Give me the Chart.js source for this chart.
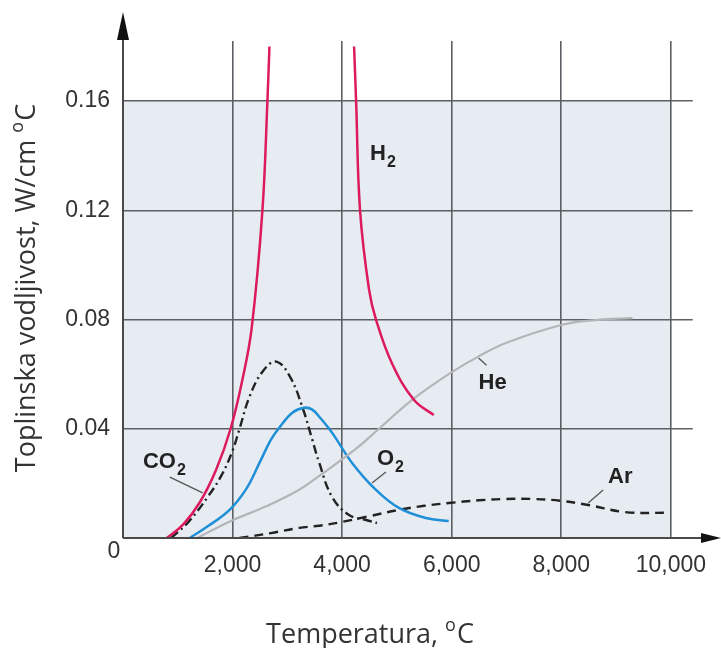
<!DOCTYPE html>
<html>
<head>
<meta charset="utf-8">
<script src="https://cdn.jsdelivr.net/npm/chart.js@4.4.1/dist/chart.umd.min.js"></script>
<style>
html,body{margin:0;padding:0;background:#fff;}
#wrap{width:721px;height:648px;position:relative;}
</style>
</head>
<body>
<div id="wrap"><canvas id="c"></canvas></div>
<script>
// ---- data (temperature in °C, conductivity in W/cm °C) ----
const h2LowT  = [800, 1100, 1400, 1700, 1964, 2180, 2350, 2545, 2636, 2673];
const h2LowK  = [0, 0.005, 0.013, 0.025, 0.040, 0.058, 0.077, 0.120, 0.160, 0.180];
const h2HighT = [4218, 4255, 4327, 4491, 4618, 4909, 5309, 5673];
const h2HighK = [0.180, 0.160, 0.120, 0.091, 0.080, 0.064, 0.0506, 0.045];
const co2T = [880, 1200, 1545, 1800, 2000, 2127, 2309, 2550, 2800, 3050, 3273, 3455, 3582, 3818, 4127, 4436, 4636];
const co2K = [0, 0.006, 0.015, 0.023, 0.032, 0.040, 0.0517, 0.061, 0.0646, 0.059, 0.048, 0.036, 0.0275, 0.015, 0.0084, 0.0066, 0.0055];
const o2T = [1218, 1527, 1945, 2250, 2491, 2700, 2855, 3091, 3309, 3455, 3600, 3818, 4182, 4618, 5036, 5527, 5945];
const o2K = [0, 0.004, 0.0103, 0.018, 0.0275, 0.036, 0.0405, 0.0459, 0.0477, 0.047, 0.044, 0.0385, 0.0275, 0.0176, 0.011, 0.0073, 0.0062];
const heT = [1350, 2000, 2600, 3200, 3600, 4273, 4673, 5273, 5945, 6491, 7000, 8000, 8618, 9300];
const heK = [0, 0.0065, 0.0115, 0.0175, 0.023, 0.033, 0.040, 0.0505, 0.060, 0.0665, 0.0715, 0.078, 0.0798, 0.0805];
const arT = [2127, 2700, 3218, 3582, 4000, 4500, 5036, 5500, 5945, 6500, 6982, 7454, 8000, 8491, 9164, 9982];
const arK = [0, 0.0018, 0.0037, 0.0045, 0.0059, 0.008, 0.0103, 0.0118, 0.0128, 0.0138, 0.0143, 0.0143, 0.0136, 0.0121, 0.0095, 0.0092];

const xTicks = [0, 2000, 4000, 6000, 8000, 10000];
const yTicks = [0, 0.04, 0.08, 0.12, 0.16];
const xMax = 10400, yMax = 0.182;

// curve labels: [main text, subscript, T, k]
const curveLabels = [
  ['H', '2', 4509, 0.1384],
  ['He', '', 6491, 0.0546],
  ['CO', '2', 364, 0.0256],
  ['O', '2', 4636, 0.0267],
  ['Ar', '', 8855, 0.0201]
];
// leader lines: [T1, k1, T2, k2]
const leaders = [
  [855, 0.0223, 1455, 0.0165],
  [6491, 0.0659, 6636, 0.0633],
  [4800, 0.0242, 4545, 0.0201],
  [8764, 0.0176, 8491, 0.0128]
];

const pts = (T, K) => T.map((t, i) => ({x: t, y: K[i]}));

const ds = (T, K, color, width, dash) => ({
  data: pts(T, K), borderColor: color, borderWidth: width, borderDash: dash || [],
  pointRadius: 0, fill: false, tension: 0.4, showLine: true
});

const TICK_FONT = {family: '"Liberation Sans", Arial, sans-serif', size: 23};

const overlay = {
  id: 'overlay',
  beforeDraw(chart) {
    const {ctx, scales: {x, y}} = chart;
    ctx.save();
    ctx.fillStyle = '#e7ecf3';
    const l = x.getPixelForValue(0), r = x.getPixelForValue(10000);
    const t = y.getPixelForValue(0.16), b = y.getPixelForValue(0);
    ctx.fillRect(l, t, r - l, b - t);
    ctx.restore();
  },
  afterDraw(chart) {
    const {ctx, scales: {x, y}} = chart;
    const ox = x.getPixelForValue(0), oy = y.getPixelForValue(0);
    ctx.save();
    // axes
    ctx.strokeStyle = '#4a4a4a';
    ctx.fillStyle = '#111';
    ctx.lineWidth = 2;
    ctx.beginPath();
    ctx.moveTo(ox, oy); ctx.lineTo(704, oy);
    ctx.moveTo(ox, oy); ctx.lineTo(ox, 36);
    ctx.stroke();
    ctx.beginPath();
    ctx.moveTo(721, oy); ctx.lineTo(701, oy - 5); ctx.lineTo(701, oy + 5); ctx.closePath(); ctx.fill();
    ctx.beginPath();
    ctx.moveTo(ox, 12); ctx.lineTo(ox - 6, 40); ctx.lineTo(ox + 6, 40); ctx.closePath(); ctx.fill();

    // origin label
    ctx.fillStyle = '#333';
    ctx.font = '23px "Liberation Sans", Arial, sans-serif';
    ctx.textAlign = 'center'; ctx.textBaseline = 'alphabetic';
    ctx.fillText('0', ox - 9, oy + 20);

    // leader lines
    ctx.strokeStyle = '#555';
    ctx.lineWidth = 1.3;
    leaders.forEach(([t1, k1, t2, k2]) => {
      ctx.beginPath();
      ctx.moveTo(x.getPixelForValue(t1), y.getPixelForValue(k1));
      ctx.lineTo(x.getPixelForValue(t2), y.getPixelForValue(k2));
      ctx.stroke();
    });

    // curve labels
    ctx.fillStyle = '#222';
    ctx.textAlign = 'left';
    curveLabels.forEach(([main, sub, t, k]) => {
      const px = x.getPixelForValue(t), py = y.getPixelForValue(k);
      ctx.font = 'bold 22px "Liberation Sans", Arial, sans-serif';
      ctx.fillText(main, px, py);
      if (sub) {
        const w = ctx.measureText(main).width;
        ctx.font = 'bold 16px "Liberation Sans", Arial, sans-serif';
        ctx.fillText(sub, px + w + 1, py + 7);
      }
    });

    // axis titles with superscript o
    const titleFont = '27px "Open Sans", sans-serif';
    const supFont = '18px "Open Sans", sans-serif';
    function drawTitle(cx, cy, rot, before, after) {
      ctx.save();
      ctx.translate(cx, cy);
      ctx.rotate(rot);
      ctx.fillStyle = '#333';
      ctx.textAlign = 'left';
      ctx.textBaseline = 'alphabetic';
      ctx.font = titleFont; const w1 = ctx.measureText(before).width;
      ctx.font = supFont; const w2 = ctx.measureText('o').width;
      ctx.font = titleFont; const w3 = ctx.measureText(after).width;
      const total = w1 + w2 + 1 + w3;
      let sx = -total / 2;
      ctx.font = titleFont; ctx.fillText(before, sx, 8);
      ctx.font = supFont; ctx.fillText('o', sx + w1, -4);
      ctx.font = titleFont; ctx.fillText(after, sx + w1 + w2 + 1, 8);
      ctx.restore();
    }
    drawTitle(27, 288, -Math.PI / 2, 'Toplinska vodljivost, W/cm ', 'C');
    drawTitle(370, 635, 0, 'Temperatura, ', 'C');
    ctx.restore();
  }
};

new Chart(document.getElementById('c'), {
  type: 'line',
  data: {
    datasets: [
      ds(h2LowT, h2LowK, '#dc1a5c', 2.5),
      ds(h2HighT, h2HighK, '#dc1a5c', 2.5),
      ds(heT, heK, '#b3b5b8', 2.2),
      ds(o2T, o2K, '#1f8fd8', 2.5),
      ds(co2T, co2K, '#222', 2.4, [9, 4, 2, 4]),
      ds(arT, arK, '#222', 2.4, [9, 6])
    ]
  },
  options: {
    responsive: true,
    maintainAspectRatio: false,
    animation: false,
    devicePixelRatio: 1,
    layout: {padding: {top: 41, right: 26, left: 0, bottom: 0}},
    plugins: {legend: {display: false}, tooltip: {enabled: false}},
    scales: {
      x: {
        type: 'linear', min: 0, max: xMax,
        afterFit(s) { s.height = 110; },
        afterBuildTicks(s) { s.ticks = xTicks.map(v => ({value: v})); },
        border: {display: false},
        grid: {color: '#5c5f63', lineWidth: 1.6, drawTicks: false},
        ticks: {
          padding: 14, color: '#333', font: TICK_FONT, maxRotation: 0, autoSkip: false,
          callback: v => v === 0 ? '' : v.toLocaleString('en-US')
        }
      },
      y: {
        type: 'linear', min: 0, max: yMax,
        afterFit(s) { s.width = 123; },
        afterBuildTicks(s) { s.ticks = yTicks.map(v => ({value: v})); },
        border: {display: false},
        grid: {color: '#5c5f63', lineWidth: 1.6, drawTicks: false},
        ticks: {
          padding: 13, color: '#333', font: TICK_FONT, autoSkip: false,
          callback: v => v === 0 ? '' : v.toFixed(2)
        }
      }
    }
  },
  plugins: [overlay]
});
</script>
</body>
</html>
